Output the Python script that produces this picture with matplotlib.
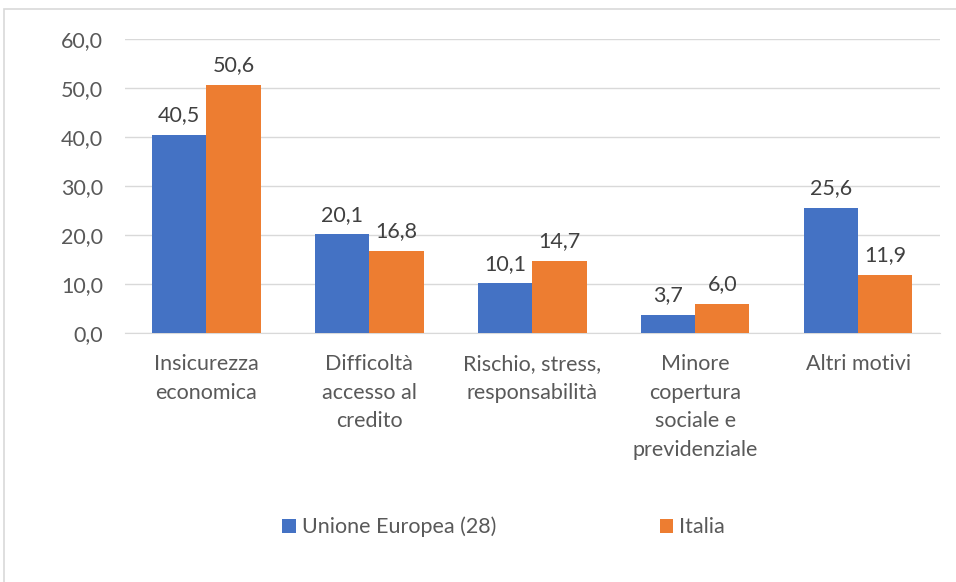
import matplotlib.pyplot as plt
import matplotlib.patches as mpatches
import numpy as np

categories = ['Insicurezza\neconomica', 'Difficoltà\naccesso al\ncredito',
              'Rischio, stress,\nresponsabilità', 'Minore\ncopertura\nsociale e\nprevidenziale',
              'Altri motivi']
ue = [40.5, 20.1, 10.1, 3.7, 25.6]
italia = [50.6, 16.8, 14.7, 6.0, 11.9]
series_names = ['Unione Europea (28)', 'Italia']
yticks = [0, 10, 20, 30, 40, 50, 60]

blue = '#4472c4'
orange = '#ed7d31'
txt = '#595959'
fs = 15.5

plt.rcParams['font.family'] = ['Lato', 'DejaVu Sans']

fig = plt.figure(figsize=(9.56, 5.82), dpi=100)
ax = fig.add_axes([0.1308, 0.428, 0.852, 0.505])

# chart frame
fig.patches.append(mpatches.Rectangle((0.004, -0.01), 1.1, 0.995, transform=fig.transFigure,
                                      fill=False, edgecolor='#d9d9d9', linewidth=1.2))

x = np.arange(len(categories))
w = 0.333
b1 = ax.bar(x - w / 2, ue, w, color=blue, label=series_names[0], zorder=3)
b2 = ax.bar(x + w / 2, italia, w, color=orange, label=series_names[1], zorder=3)

for bars, vals in [(b1, ue), (b2, italia)]:
    for r, v in zip(bars, vals):
        ax.annotate(f'{v:.1f}'.replace('.', ','), (r.get_x() + r.get_width() / 2, v),
                    xytext=(0, 7), textcoords='offset points', ha='center', va='bottom',
                    fontsize=fs, color='#404040')

ax.set_xlim(-0.5, len(categories) - 0.5)
ax.set_ylim(0, 60)
ax.set_yticks(yticks)
ax.set_yticklabels([f'{t},0' for t in yticks], fontsize=fs, color=txt)
ax.set_xticks(x)
ax.set_xticklabels(categories, fontsize=fs, color=txt, linespacing=1.55, va='top')
ax.tick_params(axis='both', length=0)
ax.tick_params(axis='y', pad=16)
ax.tick_params(axis='x', pad=15)
ax.grid(axis='y', color='#d9d9d9', linewidth=1, zorder=0)
for s in ['top', 'right', 'left']:
    ax.spines[s].set_visible(False)
ax.spines['bottom'].set_color('#d9d9d9')

fig.legend(handles=[b1, b2], loc='center left', bbox_to_anchor=(0.295, 0.0945), ncol=2,
           frameon=False, borderpad=0, borderaxespad=0,
           fontsize=fs, labelcolor=txt, handlelength=0.63, handleheight=0.65,
           handletextpad=0.28, columnspacing=7.6)

plt.savefig('out.png', dpi=100)
